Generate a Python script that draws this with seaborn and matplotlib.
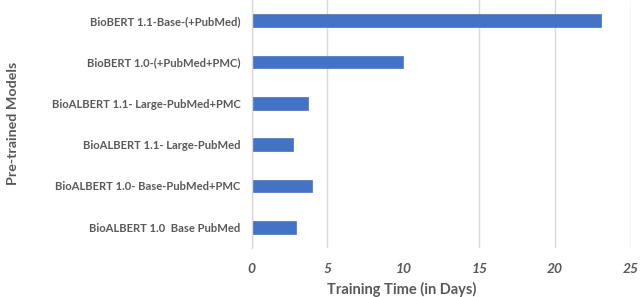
import pandas as pd
import matplotlib.pyplot as plt
import seaborn as sns

# Datos
modelos = [
    'BioBERT 1.1-Base-(+PubMed)',
    'BioBERT 1.0-(+PubMed+PMC)',
    'BioALBERT 1.1- Large-PubMed+PMC',
    'BioALBERT 1.1- Large-PubMed',
    'BioALBERT 1.0- Base-PubMed+PMC',
    'BioALBERT 1.0  Base PubMed',
]
dias = [23, 10, 3.75, 2.75, 4, 2.9]
ticks_x = [0, 5, 10, 15, 20, 25]

df = pd.DataFrame({'Modelo': modelos, 'Dias': dias})

sns.set_style('white')
plt.rcParams['font.family'] = ['Lato', 'DejaVu Sans']
gris = '#595959'

fig = plt.figure(figsize=(6.4, 2.97), dpi=100)
ax = fig.add_axes([0.393, 0.165, 0.593, 0.835])

sns.barplot(data=df, x='Dias', y='Modelo', orient='h', color='#4472C4',
            width=0.3, saturation=1, ax=ax, edgecolor='#4472C4', linewidth=0.5)

ax.set_xlim(0, 25)
ax.set_xticks(ticks_x)
ax.set_xticklabels([str(t) for t in ticks_x], fontsize=10, fontweight='bold',
                   fontstyle='italic', color=gris)
ax.tick_params(axis='x', length=0, pad=11)
ax.tick_params(axis='y', length=0, pad=8)
for lab in ax.get_yticklabels():
    lab.set_fontsize(8.1)
    lab.set_fontweight('bold')
    lab.set_color(gris)

ax.grid(axis='x', color='#D9D9D9', linewidth=1)
ax.set_axisbelow(True)
# la línea de 10 no aparece en el original
ax.xaxis.get_gridlines()[2].set_visible(False)

for s in ['top', 'right', 'bottom']:
    ax.spines[s].set_visible(False)
ax.spines['left'].set_color('#D9D9D9')
ax.spines['left'].set_linewidth(1)

ax.set_xlabel('')
ax.set_ylabel('')
fig.text(402 / 640, 0.025, 'Training Time (in Days)', ha='center', va='center',
         fontsize=10.5, fontweight='bold', color=gris)
fig.text(0.02, 0.586, 'Pre-trained Models', rotation=90, ha='center', va='center',
         fontsize=10.3, fontweight='bold', color=gris)

plt.savefig('out.png', dpi=100)
plt.close()
